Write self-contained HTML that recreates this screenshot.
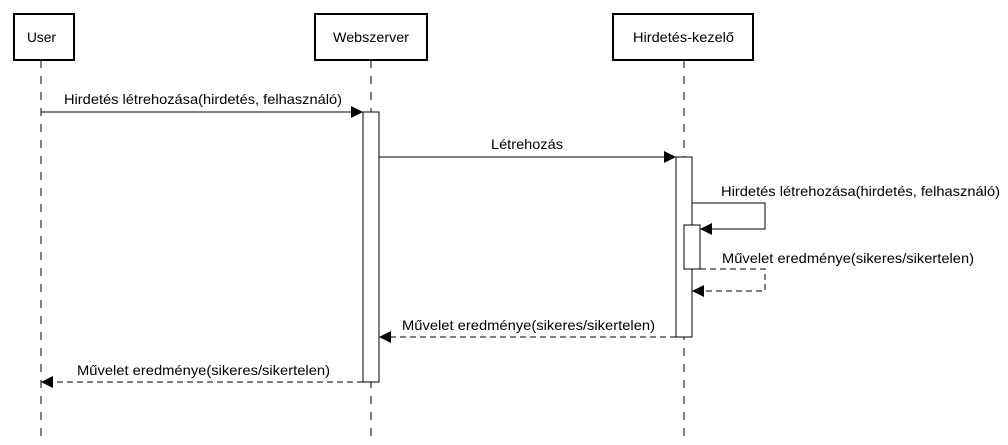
<!DOCTYPE html>
<html><head><meta charset="utf-8"><style>body{margin:0;background:#fff}</style></head><body>
<svg width="1008" height="440" xmlns="http://www.w3.org/2000/svg" font-family="Liberation Sans, sans-serif" font-size="14">
<defs>
<marker id="a" viewBox="0 0 10 10" refX="10" refY="5" markerWidth="12" markerHeight="12" markerUnits="userSpaceOnUse" orient="auto"><path d="M0,0L10,5L0,10z" fill="#000"/></marker>
</defs>
<g stroke="#000" fill="none">
<line x1="41" y1="60" x2="41" y2="440" stroke-dasharray="8,8"/>
<line x1="371" y1="60" x2="371" y2="440" stroke-dasharray="8,8"/>
<line x1="684" y1="60" x2="684" y2="440" stroke-dasharray="8,8"/>
</g>
<g stroke="#000" stroke-width="2" fill="#fff">
<rect x="14" y="14" width="60" height="46"/>
<rect x="315" y="14" width="112" height="46"/>
<rect x="613" y="14" width="140" height="46"/>
</g>
<g fill="#000">
<text x="27" y="42" textLength="29" lengthAdjust="spacingAndGlyphs">User</text>
<text x="333" y="42" textLength="76" lengthAdjust="spacingAndGlyphs">Webszerver</text>
<text x="633" y="42" textLength="101" lengthAdjust="spacingAndGlyphs">Hirdetés-kezelő</text>
</g>
<g stroke="#000" fill="#fff">
<rect x="363" y="112" width="16" height="270"/>
<rect x="676" y="157" width="16" height="180"/>
<rect x="684" y="225" width="16" height="44"/>
</g>
<g stroke="#000" fill="none">
<line x1="41" y1="112" x2="363" y2="112" marker-end="url(#a)"/>
<line x1="379" y1="157" x2="676" y2="157" marker-end="url(#a)"/>
<polyline points="692,203 765,203 765,229 700,229" marker-end="url(#a)"/>
<polyline points="700,269 765,269 765,291 692,291" stroke-dasharray="6,4" marker-end="url(#a)"/>
<line x1="676" y1="337" x2="379" y2="337" stroke-dasharray="6,4" marker-end="url(#a)"/>
<line x1="363" y1="382" x2="41" y2="382" stroke-dasharray="6,4" marker-end="url(#a)"/>
</g>
<g fill="#000">
<text x="64" y="104" textLength="278" lengthAdjust="spacingAndGlyphs">Hirdetés létrehozása(hirdetés, felhasználó)</text>
<text x="491" y="149" textLength="72" lengthAdjust="spacingAndGlyphs">Létrehozás</text>
<text x="721" y="196" textLength="279" lengthAdjust="spacingAndGlyphs">Hirdetés létrehozása(hirdetés, felhasználó)</text>
<text x="722" y="263" textLength="252" lengthAdjust="spacingAndGlyphs">Művelet eredménye(sikeres/sikertelen)</text>
<text x="402" y="330" textLength="253" lengthAdjust="spacingAndGlyphs">Művelet eredménye(sikeres/sikertelen)</text>
<text x="77" y="375" textLength="253" lengthAdjust="spacingAndGlyphs">Művelet eredménye(sikeres/sikertelen)</text>
</g>
</svg>
</body></html>
